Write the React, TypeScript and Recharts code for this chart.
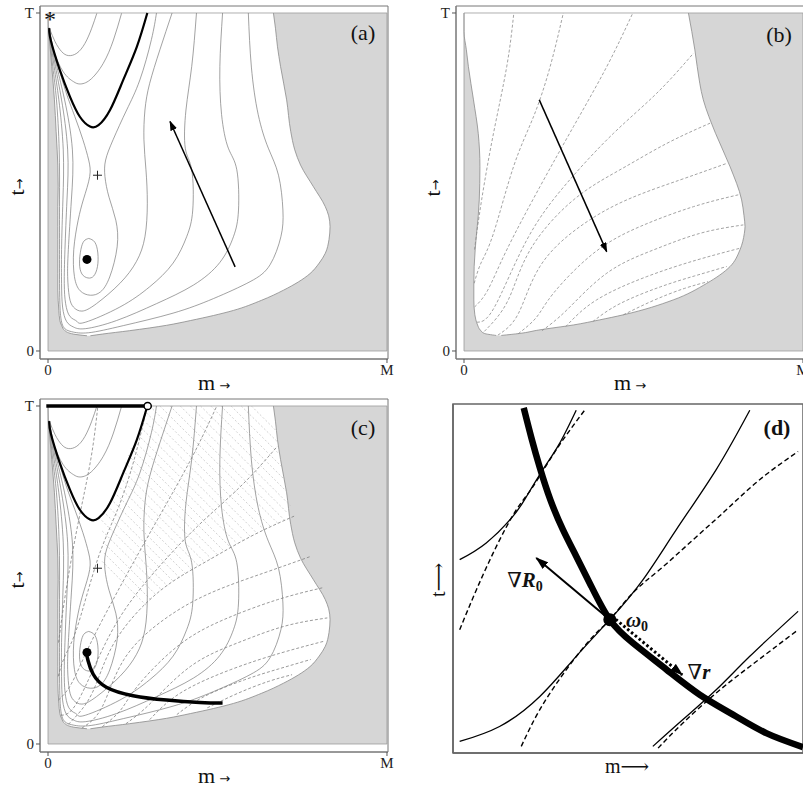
import React from 'react';
import { ComposedChart, Line, Area, XAxis, YAxis, ReferenceArea, Scatter } from 'recharts';

// ---------------- axes ----------------
const M_DOMAIN: [number, number] = [-0.0236, 1.003];
const T_DOMAIN: [number, number] = [-0.0237, 1.0207];
const M_TICKS = [0, 1];
const T_TICKS = [0, 1];
const M_TICK_LABELS = ['0', 'M'];
const T_TICK_LABELS = ['0', 'T'];

// ---------------- regions  [t, left m, right m] ----------------
const GRAY_BOX = [[0, 0, 1], [1, 0, 1]];
const GRAY_BORDER = [[0, 0], [1, 0], [1, 1], [0, 1], [0, 0]];

const REGION_A = [
  [0.045, 0.115, 0.125], [0.05, 0.075, 0.16], [0.06, 0.05, 0.24], [0.076, 0.04, 0.35],
  [0.09, 0.035, 0.42], [0.12, 0.032, 0.547], [0.15, 0.030, 0.63], [0.18, 0.029, 0.695],
  [0.229, 0.029, 0.773], [0.26, 0.029, 0.80], [0.289, 0.029, 0.818], [0.33, 0.029, 0.829],
  [0.368, 0.029, 0.832], [0.40, 0.029, 0.828], [0.427, 0.029, 0.818], [0.486, 0.030, 0.783],
  [0.55, 0.029, 0.745], [0.595, 0.027, 0.728], [0.65, 0.024, 0.716], [0.743, 0.019, 0.704],
  [0.842, 0.011, 0.686], [0.90, 0.006, 0.677], [0.955, 0.001, 0.671], [1.0, 0.0, 0.665],
];

const REGION_B = [
  [0.046, 0.095, 0.11], [0.052, 0.06, 0.165], [0.062, 0.048, 0.22], [0.077, 0.04, 0.323],
  [0.092, 0.035, 0.40], [0.107, 0.032, 0.47], [0.151, 0.029, 0.617], [0.200, 0.029, 0.716],
  [0.250, 0.030, 0.785], [0.299, 0.033, 0.814], [0.348, 0.037, 0.827], [0.368, 0.039, 0.829],
  [0.400, 0.042, 0.826], [0.447, 0.045, 0.819], [0.545, 0.047, 0.785], [0.644, 0.042, 0.742],
  [0.743, 0.028, 0.706], [0.841, 0.013, 0.688], [0.891, 0.007, 0.681], [0.945, 0.0, 0.672],
  [1.0, 0.0, 0.662],
];

// ---------------- contours of R0 (panels a, c)  [m, t] ----------------
const U1 = [[0.004, 0.955], [0.021, 0.915], [0.040, 0.886], [0.060, 0.874], [0.085, 0.881], [0.109, 0.910], [0.129, 0.955], [0.144, 0.999]];
const U2 = [[0.004, 0.955], [0.016, 0.891], [0.045, 0.826], [0.075, 0.797], [0.094, 0.790], [0.124, 0.802], [0.163, 0.851], [0.193, 0.920], [0.217, 0.999]];
const THICK_U = [[0.004, 0.955], [0.008, 0.92], [0.035, 0.831], [0.065, 0.752], [0.094, 0.693], [0.124, 0.664], [0.149, 0.668], [0.183, 0.713], [0.222, 0.802], [0.262, 0.9], [0.293, 1.0]];
const K1 = [[0.003, 0.956], [0.014, 0.842], [0.025, 0.743], [0.033, 0.595], [0.034, 0.447], [0.034, 0.30], [0.034, 0.20], [0.036, 0.12], [0.045, 0.072], [0.07, 0.057], [0.12, 0.054], [0.222, 0.075], [0.369, 0.112], [0.488, 0.155], [0.596, 0.205], [0.655, 0.255], [0.687, 0.338], [0.693, 0.417], [0.680, 0.52], [0.650, 0.6], [0.620, 0.70], [0.600, 0.84], [0.591, 1.0]];
const K2 = [[0.003, 0.956], [0.018, 0.842], [0.032, 0.743], [0.045, 0.595], [0.044, 0.447], [0.040, 0.30], [0.040, 0.20], [0.043, 0.13], [0.055, 0.087], [0.075, 0.071], [0.11, 0.066], [0.202, 0.09], [0.320, 0.14], [0.429, 0.195], [0.507, 0.262], [0.547, 0.338], [0.562, 0.417], [0.557, 0.536], [0.532, 0.6], [0.512, 0.70], [0.507, 0.842], [0.515, 1.0]];
const K3 = [[0.003, 0.956], [0.022, 0.842], [0.040, 0.743], [0.058, 0.595], [0.056, 0.447], [0.050, 0.30], [0.048, 0.20], [0.052, 0.14], [0.065, 0.102], [0.085, 0.088], [0.11, 0.085], [0.212, 0.13], [0.300, 0.19], [0.369, 0.26], [0.409, 0.338], [0.427, 0.417], [0.424, 0.536], [0.405, 0.6], [0.407, 0.713], [0.424, 0.842], [0.438, 1.0]];
const K4 = [[0.003, 0.956], [0.026, 0.842], [0.049, 0.743], [0.072, 0.595], [0.069, 0.447], [0.060, 0.30], [0.058, 0.22], [0.063, 0.16], [0.075, 0.13], [0.10, 0.118], [0.143, 0.14], [0.212, 0.2], [0.261, 0.265], [0.286, 0.338], [0.293, 0.437], [0.289, 0.536], [0.283, 0.625], [0.286, 0.713], [0.300, 0.792], [0.330, 0.891], [0.366, 1.0]];
const TEAR = [[0.003, 0.956], [0.010, 0.911], [0.030, 0.842], [0.054, 0.763], [0.079, 0.694], [0.103, 0.625], [0.120, 0.565], [0.123, 0.516], [0.105, 0.45], [0.089, 0.387], [0.076, 0.3], [0.078, 0.22], [0.095, 0.178], [0.125, 0.165], [0.155, 0.175], [0.182, 0.219], [0.204, 0.308], [0.200, 0.387], [0.180, 0.455], [0.168, 0.516], [0.170, 0.565], [0.192, 0.625], [0.232, 0.713], [0.271, 0.802], [0.305, 0.921], [0.320, 1.0]];
const LOOP = [[0.120, 0.333], [0.138, 0.322], [0.147, 0.29], [0.146, 0.25], [0.135, 0.222], [0.118, 0.216], [0.100, 0.228], [0.093, 0.26], [0.097, 0.3], [0.106, 0.325], [0.120, 0.333]];
const CONTOURS = [U1, U2, K1, K2, K3, K4, TEAR, LOOP];

const MIN_POINT = [[0.115, 0.271]];
const SADDLE_POINT = [[0.146, 0.52]];
const ARROW_A = [[0.552, 0.249], [0.360, 0.679]];

// ---------------- contours of r (panels b, c) ----------------
const L1 = [[0.031, 0.30], [0.052, 0.447], [0.087, 0.644], [0.126, 0.841], [0.147, 1.0]];
const L2 = [[0.030, 0.20], [0.050, 0.26], [0.087, 0.348], [0.146, 0.545], [0.205, 0.693], [0.254, 0.841], [0.293, 1.0]];
const L3 = [[0.031, 0.13], [0.070, 0.18], [0.126, 0.299], [0.224, 0.486], [0.323, 0.664], [0.421, 0.841], [0.498, 1.0]];
const L4 = [[0.038, 0.085], [0.090, 0.13], [0.185, 0.328], [0.303, 0.496], [0.441, 0.644], [0.568, 0.762], [0.677, 0.881]];
const L5 = [[0.06, 0.058], [0.13, 0.15], [0.195, 0.299], [0.323, 0.447], [0.460, 0.536], [0.598, 0.614], [0.726, 0.674]];
const L6 = [[0.10, 0.047], [0.16, 0.11], [0.224, 0.25], [0.342, 0.368], [0.480, 0.447], [0.637, 0.506], [0.775, 0.555]];
const L7 = [[0.16, 0.051], [0.214, 0.10], [0.264, 0.171], [0.382, 0.289], [0.519, 0.368], [0.677, 0.427], [0.809, 0.462]];
const L8 = [[0.23, 0.060], [0.303, 0.121], [0.421, 0.230], [0.559, 0.299], [0.696, 0.348], [0.824, 0.373]];
const L9 = [[0.30, 0.072], [0.391, 0.151], [0.539, 0.220], [0.686, 0.269], [0.814, 0.304]];
const L10 = [[0.38, 0.087], [0.46, 0.14], [0.58, 0.19], [0.68, 0.222], [0.775, 0.25]];
const L11 = [[0.47, 0.107], [0.56, 0.15], [0.65, 0.185], [0.72, 0.205]];
const R_LINES = [L1, L2, L3, L4, L5, L6, L7, L8, L9, L10, L11];
const ARROW_B = [[0.222, 0.743], [0.421, 0.294]];

// ---------------- panel (c) extras: hatching segments [start, end] ----------------
const HATCH = [
  [[0.16, 0.54], [0.29, 0.41]], [[0.165, 0.565], [0.304, 0.426]], [[0.17, 0.59], [0.318, 0.442]],
  [[0.16, 0.63], [0.336, 0.455]], [[0.15, 0.67], [0.353, 0.467]], [[0.163, 0.688], [0.372, 0.479]],
  [[0.175, 0.705], [0.39, 0.49]], [[0.185, 0.725], [0.408, 0.502]], [[0.195, 0.745], [0.426, 0.514]],
  [[0.204, 0.767], [0.445, 0.526]], [[0.212, 0.788], [0.463, 0.537]], [[0.22, 0.81], [0.482, 0.548]],
  [[0.228, 0.832], [0.501, 0.559]], [[0.237, 0.854], [0.52, 0.57]], [[0.245, 0.875], [0.539, 0.581]],
  [[0.256, 0.895], [0.559, 0.592]], [[0.266, 0.914], [0.578, 0.602]], [[0.274, 0.936], [0.598, 0.613]],
  [[0.282, 0.958], [0.617, 0.623]], [[0.291, 0.979], [0.638, 0.633]], [[0.30, 1.0], [0.658, 0.642]],
  [[0.33, 1.0], [0.679, 0.652]], [[0.36, 1.0], [0.699, 0.661]], [[0.39, 1.0], [0.707, 0.683]],
  [[0.42, 1.0], [0.715, 0.705]], [[0.45, 1.0], [0.706, 0.745]], [[0.48, 1.0], [0.696, 0.784]],
  [[0.51, 1.0], [0.69, 0.82]], [[0.54, 1.0], [0.683, 0.857]], [[0.57, 1.0], [0.679, 0.892]],
  [[0.60, 1.0], [0.674, 0.926]],
];
const THICK_C = [[0.113, 0.270], [0.118, 0.247], [0.133, 0.207], [0.172, 0.168], [0.251, 0.143], [0.350, 0.130], [0.448, 0.123], [0.515, 0.121]];
const TOP_C = [[-0.005, 1.0], [0.288, 1.0]];
const OPEN_POINT = [[0.294, 1.0]];

// ---------------- panel (d) ----------------
const D_THICK = [[0.202, 0.989], [0.224, 0.903], [0.248, 0.818], [0.278, 0.726], [0.314, 0.640], [0.352, 0.564], [0.395, 0.478], [0.448, 0.382], [0.514, 0.315], [0.610, 0.239], [0.705, 0.167], [0.800, 0.110], [0.895, 0.057], [1.0, 0.017]];
const D_S1 = [[0.019, 0.554], [0.095, 0.602], [0.171, 0.678], [0.210, 0.735], [0.257, 0.812], [0.305, 0.888], [0.352, 0.982]];
const D_D1 = [[0.019, 0.353], [0.067, 0.468], [0.124, 0.592], [0.181, 0.697], [0.229, 0.764], [0.295, 0.869], [0.376, 0.982]];
const D_S2 = [[0.019, 0.033], [0.133, 0.076], [0.248, 0.162], [0.352, 0.277], [0.448, 0.382], [0.543, 0.497], [0.638, 0.640], [0.752, 0.812], [0.848, 0.982]];
const D_D2 = [[0.195, 0.019], [0.248, 0.124], [0.324, 0.239], [0.400, 0.334], [0.448, 0.382], [0.514, 0.459], [0.590, 0.525], [0.686, 0.611], [0.781, 0.697], [0.876, 0.783], [0.986, 0.864]];
const D_S3 = [[0.571, 0.019], [0.657, 0.096], [0.752, 0.181], [0.848, 0.277], [0.986, 0.406]];
const D_D3 = [[0.586, 0.014], [0.657, 0.086], [0.752, 0.172], [0.848, 0.248], [0.986, 0.353]];
const D_GRAD_R0 = [[0.448, 0.382], [0.238, 0.559]];
const D_GRAD_R = [[0.465, 0.383], [0.655, 0.224]];
const D_OMEGA = [[0.448, 0.382]];

// ---------------- helpers ----------------
const SERIF = '"Liberation Serif","DejaVu Serif",serif';
const toPts = (a: number[][]) => a.map(([m, t]) => ({ m, t }));
const toRegion = (a: number[][]) => a.map(([t, l, h]) => ({ t, r: [l, h] }));

const ln = (key: string, data: number[][], stroke: string, width: number, dash?: string, type: any = 'natural', extra: any = {}) => (
  <Line key={key} data={toPts(data)} dataKey="m" type={type} stroke={stroke} strokeWidth={width}
    strokeDasharray={dash} dot={false} activeDot={false} isAnimationActive={false} legendType="none" {...extra} />
);

const tickStyle = { fontFamily: SERIF, fontSize: 15, fill: '#222' };

function Field({ left, top, region, children }: any) {
  return (
    <div style={{ position: 'absolute', left, top }}>
      <ComposedChart layout="vertical" width={400} height={390} margin={{ top: 6, right: 12, bottom: 0, left: 0 }}>
        <XAxis type="number" dataKey="m" domain={M_DOMAIN} allowDataOverflow ticks={M_TICKS} interval={0}
          tickFormatter={(v: number) => M_TICK_LABELS[M_TICKS.indexOf(v)] ?? ''} height={31} tickSize={4} tickMargin={1}
          axisLine={{ stroke: '#777' }} tickLine={{ stroke: '#555' }} tick={tickStyle} />
        <YAxis type="number" dataKey="t" domain={T_DOMAIN} allowDataOverflow reversed ticks={T_TICKS} interval={0}
          tickFormatter={(v: number) => T_TICK_LABELS[T_TICKS.indexOf(v)] ?? ''} width={40} tickSize={4} tickMargin={2}
          axisLine={{ stroke: '#777' }} tickLine={{ stroke: '#555' }} tick={tickStyle} />
        <Area data={toRegion(GRAY_BOX)} dataKey="r" type="linear" fill="#d6d6d6" fillOpacity={1} stroke="none"
          dot={false} activeDot={false} isAnimationActive={false} legendType="none" />
        <Area data={toRegion(region)} dataKey="r" type="monotone" fill="#ffffff" fillOpacity={1} stroke="#8a8a8a" strokeWidth={0.8}
          dot={false} activeDot={false} isAnimationActive={false} legendType="none" />
        {ln('grayborder', GRAY_BORDER, '#9a9a9a', 0.8, undefined, 'linear')}
        {children}
        <ReferenceArea x1={M_DOMAIN[0]} x2={M_DOMAIN[1]} y1={T_DOMAIN[0]} y2={T_DOMAIN[1]} fill="none" stroke="#777" strokeWidth={1} ifOverflow="visible" />
      </ComposedChart>
    </div>
  );
}

const Txt = ({ x, y, size = 20, rot = 0, weight = 'normal', children }: any) => (
  <div style={{
    position: 'absolute', left: x, top: y, transform: `translate(-50%,-50%) rotate(${rot}deg)`,
    fontFamily: SERIF, fontSize: size, lineHeight: 1, whiteSpace: 'nowrap', fontWeight: weight, color: '#111',
  }}>{children}</div>
);
const ARROW_FONT = { fontSize: 13, fontFamily: '"DejaVu Sans",sans-serif', color: '#111' };

const dotShape = (r: number, fill: string, stroke = 'none', sw = 0) => (p: any) =>
  <circle cx={p.cx} cy={p.cy} r={r} fill={fill} stroke={stroke} strokeWidth={sw} />;
const plusShape = (p: any) => (
  <g stroke="#222" strokeWidth={1}>
    <line x1={p.cx - 4.5} y1={p.cy} x2={p.cx + 4.5} y2={p.cy} />
    <line x1={p.cx} y1={p.cy - 4.5} x2={p.cx} y2={p.cy + 4.5} />
  </g>
);

const contourLines = (prefix: string) => [
  ...CONTOURS.map((c, i) => ln(prefix + 'c' + i, c, '#7a7a7a', 0.7)),
  ln(prefix + 'thick', THICK_U, '#000', 2.2),
];

const rLines = (prefix: string, color: string) =>
  R_LINES.map((c, i) => ln(prefix + 'r' + i, c, color, 0.8, '3 2'));

const markers = (prefix: string) => [
  <Scatter key={prefix + 'min'} data={toPts(MIN_POINT)} shape={dotShape(4.5, '#000')} isAnimationActive={false} legendType="none" />,
  <Scatter key={prefix + 'saddle'} data={toPts(SADDLE_POINT)} shape={plusShape} isAnimationActive={false} legendType="none" />,
];

export default function App() {
  return (
    <div style={{ position: 'absolute', left: 0, top: 0, width: 803, height: 790, overflow: 'hidden', background: '#fff' }}>
      <svg width={0} height={0} style={{ position: 'absolute' }}>
        <defs>
          <marker id="ah" viewBox="0 0 10 7" refX={9} refY={3.5} markerWidth={10} markerHeight={7} markerUnits="userSpaceOnUse" orient="auto">
            <path d="M0,0 L10,3.5 L0,7 z" fill="#000" />
          </marker>
          <marker id="ahBig" viewBox="0 0 12 8" refX={11} refY={4} markerWidth={13} markerHeight={9} markerUnits="userSpaceOnUse" orient="auto">
            <path d="M0,0 L12,4 L0,8 z" fill="#000" />
          </marker>
        </defs>
      </svg>

      {/* (a) */}
      <Field left={0} top={0} region={REGION_A}>
        {contourLines('a')}
        {ln('arrowA', ARROW_A, '#000', 1.5, undefined, 'linear', { markerEnd: 'url(#ah)' })}
        {markers('a')}
      </Field>

      {/* (b) */}
      <Field left={416} top={0} region={REGION_B}>
        {rLines('b', '#8c8c8c')}
        {ln('arrowB', ARROW_B, '#000', 1.5, undefined, 'linear', { markerEnd: 'url(#ah)' })}
      </Field>

      {/* (c) */}
      <Field left={0} top={393} region={REGION_A}>
        {HATCH.map((h, i) => ln('h' + i, h, '#b3b3b3', 0.6, '2 2', 'linear'))}
        {rLines('c', '#808080')}
        {contourLines('c')}
        {ln('thickC', THICK_C, '#000', 3.5)}
        {ln('topC', TOP_C, '#000', 3.5, undefined, 'linear')}
        {markers('c')}
        <Scatter data={toPts(OPEN_POINT)} shape={dotShape(3.6, '#fff', '#000', 1.5)} isAnimationActive={false} legendType="none" />
      </Field>

      {/* (d) */}
      <div style={{ position: 'absolute', left: 413, top: 398 }}>
        <ComposedChart layout="vertical" width={402} height={386} margin={{ top: 6, right: 12, bottom: 0, left: 0 }}>
          <XAxis type="number" dataKey="m" domain={[0, 1]} allowDataOverflow ticks={[]} tick={false} tickLine={false} height={31} axisLine={{ stroke: '#666', strokeWidth: 1.5 }} />
          <YAxis type="number" dataKey="t" domain={[0, 1]} allowDataOverflow reversed ticks={[]} tick={false} tickLine={false} width={40} axisLine={{ stroke: '#666', strokeWidth: 1.5 }} />
          {ln('ds1', D_S1, '#000', 1.3)}
          {ln('dd1', D_D1, '#000', 1.4, '5 3')}
          {ln('ds2', D_S2, '#000', 1.3)}
          {ln('dd2', D_D2, '#000', 1.4, '5 3')}
          {ln('ds3', D_S3, '#000', 1.3)}
          {ln('dd3', D_D3, '#000', 1.4, '5 3')}
          {ln('dthick', D_THICK, '#000', 6.5)}
          {ln('dgR0', D_GRAD_R0, '#000', 2, undefined, 'linear', { markerEnd: 'url(#ahBig)' })}
          {ln('dgr', D_GRAD_R, '#000', 3, '2.5 2.5', 'linear', { markerEnd: 'url(#ahBig)' })}
          <Scatter data={toPts(D_OMEGA)} shape={dotShape(6.5, '#000')} isAnimationActive={false} legendType="none" />
          <ReferenceArea x1={0} x2={1} y1={0} y2={1} fill="none" stroke="#666" strokeWidth={1.5} ifOverflow="visible" />
        </ComposedChart>
      </div>

      {/* text annotations */}
      <Txt x={50} y={19} size={24}>*</Txt>
      <Txt x={363} y={33} size={22}>(a)</Txt>
      <Txt x={779} y={35} size={22}>(b)</Txt>
      <Txt x={363} y={428} size={22}>(c)</Txt>
      <Txt x={777} y={428} size={22} weight="bold">(d)</Txt>

      <Txt x={17} y={187} rot={-90}><span style={{ fontSize: 22 }}>t</span><span style={ARROW_FONT}>→</span></Txt>
      <Txt x={433} y={188} rot={-90}><span style={{ fontSize: 22 }}>t</span><span style={ARROW_FONT}>→</span></Txt>
      <Txt x={17} y={580} rot={-90}><span style={{ fontSize: 22 }}>t</span><span style={ARROW_FONT}>→</span></Txt>
      <Txt x={214} y={383}><span style={{ fontSize: 22 }}>m</span><span style={ARROW_FONT}> →</span></Txt>
      <Txt x={630} y={383}><span style={{ fontSize: 22 }}>m</span><span style={ARROW_FONT}> →</span></Txt>
      <Txt x={214} y={776}><span style={{ fontSize: 22 }}>m</span><span style={ARROW_FONT}> →</span></Txt>

      <Txt x={438} y={580} rot={-90} size={20}>t⟶</Txt>
      <Txt x={627} y={766} size={20}>m⟶</Txt>
      <Txt x={525} y={580} size={21}><span>∇</span><b><i>R</i><span style={{ fontSize: 14, position: 'relative', top: 4 }}>0</span></b></Txt>
      <Txt x={637} y={620} size={21}><b><i>ω</i><span style={{ fontSize: 14, position: 'relative', top: 4 }}>0</span></b></Txt>
      <Txt x={699} y={672} size={21}><span>∇</span><b><i>r</i></b></Txt>
    </div>
  );
}
